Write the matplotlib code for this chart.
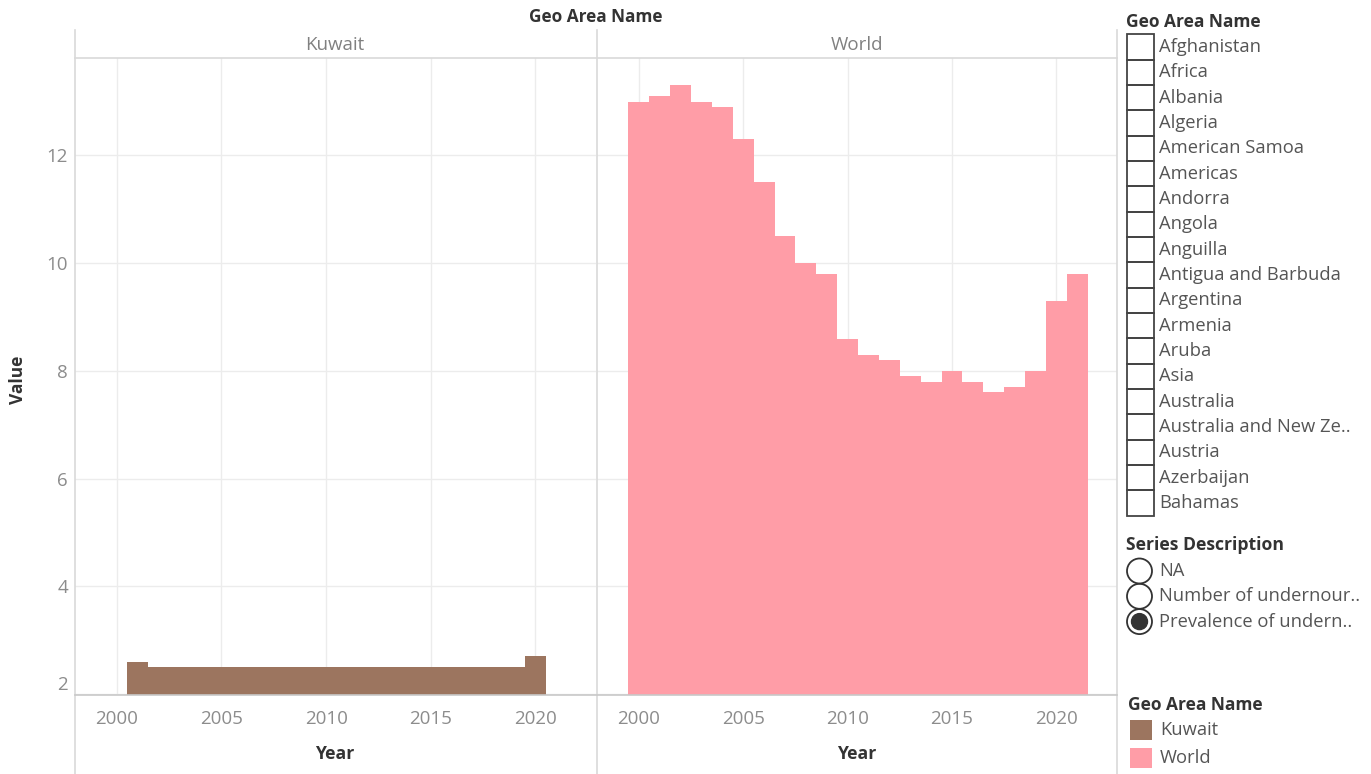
import matplotlib.pyplot as plt
from matplotlib.patches import Rectangle, Circle

plt.rcParams['font.family'] = ['Open Sans', 'DejaVu Sans']

# data
kuwait_years = list(range(2001, 2021))
kuwait_values = [2.6] + [2.5] * 18 + [2.7]

world_years = list(range(2000, 2022))
world_values = [13.0, 13.1, 13.3, 13.0, 12.9, 12.3, 11.5, 10.5, 10.0, 9.8,
                8.6, 8.3, 8.2, 7.9, 7.8, 8.0, 7.8, 7.6, 7.7, 8.0, 9.3, 9.8]

panels = ['Kuwait', 'World']
colors = {'Kuwait': '#9C755F', 'World': '#FF9DA7'}

x_ticks = [2000, 2005, 2010, 2015, 2020]
y_ticks = [2, 4, 6, 8, 10, 12]

geo_filter = ['Afghanistan', 'Africa', 'Albania', 'Algeria', 'American Samoa',
              'Americas', 'Andorra', 'Angola', 'Anguilla', 'Antigua and Barbuda',
              'Argentina', 'Armenia', 'Aruba', 'Asia', 'Australia',
              'Australia and New Ze..', 'Austria', 'Azerbaijan', 'Bahamas']
series_options = ['NA', 'Number of undernour..', 'Prevalence of undern..']
series_selected = 2

W, H = 1371, 774
fig = plt.figure(figsize=(W / 100, H / 100), dpi=100)

def px_axes(x0, y0, x1, y1):
    return fig.add_axes([x0 / W, 1 - y1 / H, (x1 - x0) / W, (y1 - y0) / H])

tick_color = '#8c8c8c'
text_color = '#555555'
title_color = '#333333'
grid_color = '#ececec'

data = {'Kuwait': (kuwait_years, kuwait_values), 'World': (world_years, world_values)}
boxes = {'Kuwait': (75, 596), 'World': (597, 1117)}

for i, name in enumerate(panels):
    x0, x1 = boxes[name]
    ax = px_axes(x0, 58, x1, 695)
    yrs, vals = data[name]
    ax.bar(yrs, vals, width=1.0, color=colors[name], linewidth=0, zorder=2)
    ax.set_xlim(1998.0, 2022.9)
    ax.set_ylim(1.98, 13.81)
    ax.set_xticks(x_ticks)
    ax.set_yticks(y_ticks)
    ax.grid(True, color=grid_color, linewidth=1, zorder=0)
    ax.set_axisbelow(True)
    for s in ax.spines.values():
        s.set_visible(False)
    ax.tick_params(length=0, labelsize=13.5, labelcolor=tick_color)
    ax.tick_params(axis='x', pad=11)
    if i == 0:
        ax.tick_params(axis='y', pad=5)
        ax.get_yticklabels()[0].set_verticalalignment('bottom')
    else:
        ax.tick_params(axis='y', labelleft=False)

# overlay for headers, frame lines and the legends
ov = fig.add_axes([0, 0, 1, 1], facecolor='none')
ov.set_xlim(0, W)
ov.set_ylim(H, 0)
ov.axis('off')

line_c = '#d9d9d9'
for x in (75, 596.5, 1117):
    ov.plot([x, x], [30, H], color=line_c, lw=1.2)
ov.plot([75, 1117], [58, 58], color=line_c, lw=1.2)
ov.plot([75, 1117], [695, 695], color='#c8c8c8', lw=1.2)

ov.text(596, 17, 'Geo Area Name', ha='center', va='center', fontsize=12.4,
        fontweight='bold', color=title_color)
ov.text(335, 45, 'Kuwait', ha='center', va='center', fontsize=13.5, color='#808080')
ov.text(857, 45, 'World', ha='center', va='center', fontsize=13.5, color='#808080')
ov.text(335, 754, 'Year', ha='center', va='center', fontsize=12.7,
        fontweight='bold', color=title_color)
ov.text(857, 754, 'Year', ha='center', va='center', fontsize=12.7,
        fontweight='bold', color=title_color)
ov.text(18, 380, 'Value', ha='center', va='center', rotation=90, fontsize=12.5,
        fontweight='bold', color=title_color)

# filter list
ov.text(1126, 22, 'Geo Area Name', ha='left', va='center', fontsize=12.5,
        fontweight='bold', color=title_color)
row = 25.33
for k, label in enumerate(geo_filter):
    yc = 47 + k * row
    ov.add_patch(Rectangle((1126.5, yc - row / 2), 27, row, fill=False,
                           edgecolor='#444444', lw=1.3))
    ov.text(1159, yc, label, ha='left', va='center', fontsize=13.2, color=text_color)

ov.text(1126, 545, 'Series Description', ha='left', va='center', fontsize=12.7,
        fontweight='bold', color=title_color)
for k, label in enumerate(series_options):
    yc = 571 + k * 25.3
    ov.add_patch(Circle((1139.5, yc), 12.5, fill=False, edgecolor='#333333', lw=1.3))
    if k == series_selected:
        ov.add_patch(Circle((1139.5, yc), 8, color='#333333'))
    ov.text(1159, yc, label, ha='left', va='center', fontsize=13.2, color=text_color)

ov.text(1128, 705, 'Geo Area Name', ha='left', va='center', fontsize=12.5,
        fontweight='bold', color=title_color)
for k, name in enumerate(panels):
    yc = 730 + k * 28
    ov.add_patch(Rectangle((1130, yc - 10), 22, 20, color=colors[name], lw=0))
    ov.text(1160, yc, name, ha='left', va='center', fontsize=13.2, color=text_color)

fig.savefig('out.png', dpi=100)
